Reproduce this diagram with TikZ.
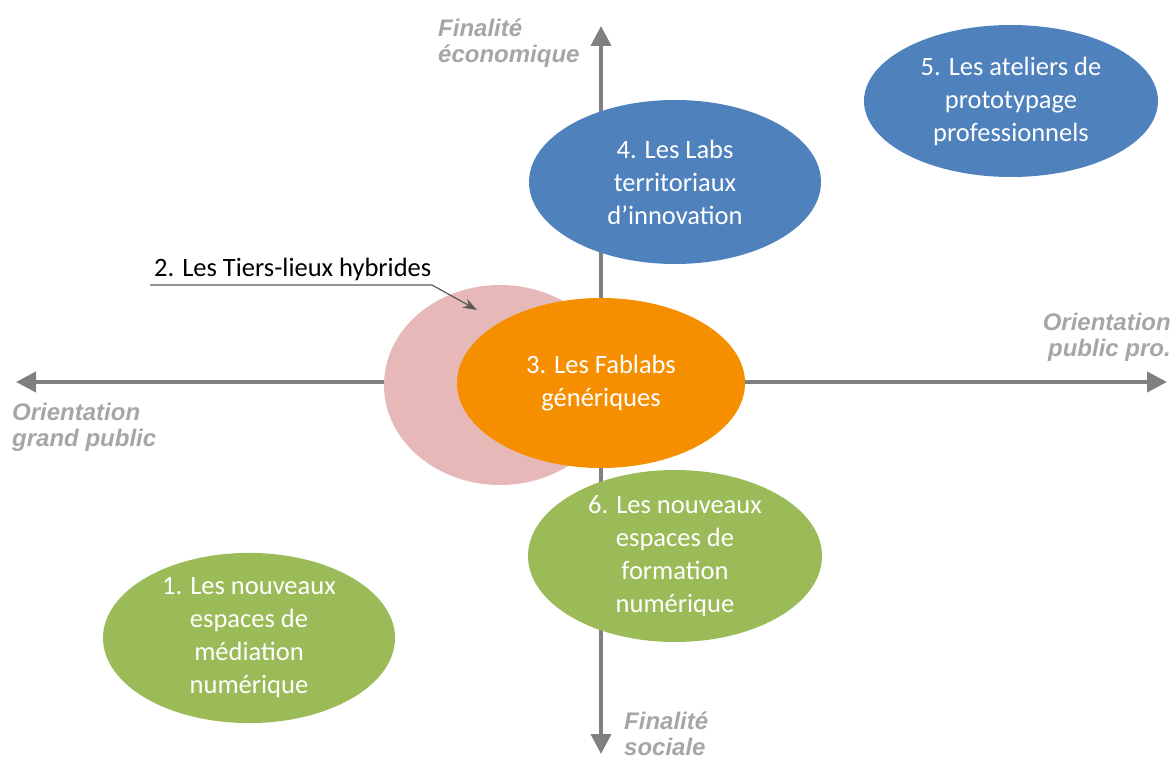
\documentclass[tikz,border=0pt]{standalone}
\usepackage{fontspec}
\setmainfont{Carlito}
\newfontfamily\axisfont{Liberation Sans}
\usetikzlibrary{arrows.meta, positioning, shapes.geometric}
\definecolor{labBlue}{HTML}{4F81BD}
\definecolor{labGreen}{HTML}{9BBB59}
\definecolor{labOrange}{HTML}{F68F00}
\definecolor{labPink}{HTML}{E6B9B8}
\definecolor{axisGray}{HTML}{808080}
\definecolor{axisText}{HTML}{A6A6A6}
\definecolor{pointerGray}{HTML}{595959}

\begin{document}
\begin{tikzpicture}[x=1pt, y=-1pt]
		\tikzstyle{LabEllipse} = [ellipse, inner sep=0pt, text=white, align=center, font=\fontsize{26.5}{33}\selectfont]
		\tikzstyle{BlueLab} = [LabEllipse, fill=labBlue, minimum width=292pt, minimum height=160pt]
		\tikzstyle{GreenLab} = [LabEllipse, fill=labGreen, minimum width=292pt, minimum height=166pt]
		\tikzstyle{AxisArrow} = [line width=4pt, draw=axisGray, {Triangle[length=20pt, width=20pt]}-{Triangle[length=20pt, width=20pt]}]
		\tikzstyle{AxisLabel} = [inner sep=0pt, text=axisText, font=\axisfont\bfseries\itshape\fontsize{24}{26}\selectfont]
		\tikzstyle{pointer} = [line width=1.2pt, draw=pointerGray, -{Stealth[length=14pt, width=10pt]}]
		
		\useasboundingbox (0,0) rectangle (1176,762);
		
		% axes
		\coordinate (west) at (16,382);
		\coordinate (east) at (1167,382);
		\coordinate (north) at (601,26);
		\coordinate (south) at (601,754);
		\draw[AxisArrow] (west) -- (east);
		\draw[AxisArrow] (north) -- (south);
		
		\node (ecoLabel) [AxisLabel, anchor=west, align=left] at (438,43) {Finalité\\économique};
		\node (proLabel) [AxisLabel, anchor=east, align=right] at (1171,337) {Orientation\\public pro.};
		\node (grandLabel) [AxisLabel, anchor=west, align=left] at (12,427) {Orientation\\grand public};
		\node (socLabel) [AxisLabel, anchor=west, align=left] at (624,734) {Finalité\\sociale};
		
		% ellipses
		\node (tiers) [ellipse, fill=labPink, minimum width=232pt, minimum height=200pt] at (500,385) {};
		\node (fablabs) [LabEllipse, fill=labOrange, minimum width=288pt, minimum height=170pt] at (601,383) {3. Les Fablabs\\génériques};
		\node (labs) [BlueLab, minimum height=164pt] at (675,182) {4. Les Labs\\territoriaux\\d’innovation};
		\node (ateliers) [BlueLab, minimum width=294pt, minimum height=152pt] at (1011,101) {5. Les ateliers de\\prototypage\\professionnels};
		\node (formation) [GreenLab, minimum width=294pt, minimum height=172pt] at (675,556) {6. Les nouveaux\\espaces de\\formation\\numérique};
		\node (mediation) [GreenLab, minimum height=164pt] at (249,638) {1. Les nouveaux\\espaces de\\médiation\\numérique};
		
		% label of the hybrid places
		\node (tiersLabel) [anchor=west, inner sep=0pt, font=\fontsize{26.5}{30}\selectfont] at (154,269) {2. Les Tiers-lieux hybrides};
		\coordinate (lineStart) at (150,285);
		\coordinate (lineBend) at (432,285);
		\coordinate (tiersTip) at (477,310);
		\draw[pointer] (lineStart) -- (lineBend) -- (tiersTip);
\end{tikzpicture}
\end{document}
